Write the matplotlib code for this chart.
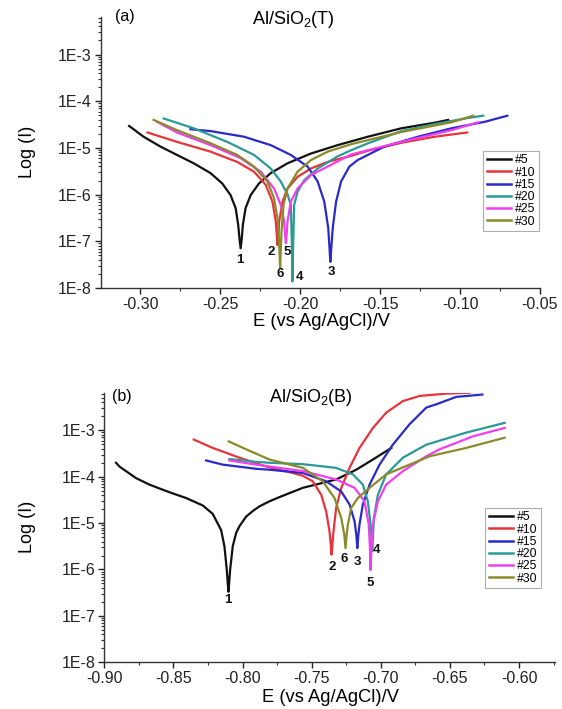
import numpy as np
import matplotlib
matplotlib.use("Agg")
import matplotlib.pyplot as plt
from matplotlib.ticker import LogLocator, FuncFormatter, MultipleLocator, NullFormatter

plt.rcParams['font.family'] = ['Liberation Sans', 'DejaVu Sans']
plt.rcParams['mathtext.fontset'] = 'custom'
plt.rcParams['mathtext.rm'] = 'Liberation Sans'

# ---------------- data (E in V, log10 of current) ----------------
series_names = ["#5", "#10", "#15", "#20", "#25", "#30"]
series_colors = ["#111111", "#e8343a", "#2a2ac8", "#2a9a96", "#f03ef0", "#8a8a2a"]

# Panel (a) Al/SiO2(T)
Ta_E5 = [-0.3069, -0.2979, -0.2874, -0.2770, -0.2665, -0.2560, -0.2487, -0.2435, -0.2403, -0.2387, -0.2379, -0.2372,
         -0.2365, -0.2358, -0.2341, -0.2309, -0.2257, -0.2184, -0.2079, -0.1932, -0.1765, -0.1576, -0.1367, -0.1158, -0.1074]
Ta_L5 = [-4.53, -4.76, -4.97, -5.15, -5.33, -5.54, -5.76, -6.01, -6.29, -6.65, -6.95, -7.15,
         -6.95, -6.65, -6.29, -6.01, -5.76, -5.54, -5.33, -5.12, -4.94, -4.76, -4.58, -4.46, -4.40]
Ta_E10 = [-0.2954, -0.2770, -0.2560, -0.2393, -0.2288, -0.2215, -0.2173, -0.2152, -0.2146, -0.2141, -0.2136,
          -0.2131, -0.2110, -0.2079, -0.2016, -0.1932, -0.1828, -0.1681, -0.1576, -0.1367, -0.1158, -0.0955]
Ta_L10 = [-4.67, -4.87, -5.08, -5.30, -5.51, -5.79, -6.15, -6.58, -6.85, -7.08, -6.85,
          -6.58, -6.15, -5.87, -5.62, -5.44, -5.30, -5.17, -5.06, -4.89, -4.76, -4.67]
Ta_E15 = [-0.2686, -0.2560, -0.2351, -0.2184, -0.2058, -0.1953, -0.1890, -0.1849, -0.1824, -0.1817, -0.1811,
          -0.1804, -0.1796, -0.1775, -0.1744, -0.1692, -0.1640, -0.1472, -0.1263, -0.1054, -0.0844, -0.0704]
Ta_L15 = [-4.60, -4.64, -4.76, -4.94, -5.15, -5.40, -5.72, -6.15, -6.72, -7.10, -7.44,
          -7.10, -6.72, -6.15, -5.72, -5.40, -5.26, -4.97, -4.76, -4.58, -4.44, -4.31]
Ta_E20 = [-0.2853, -0.2665, -0.2456, -0.2288, -0.2184, -0.2121, -0.2079, -0.2058, -0.2052, -0.2048, -0.2043,
          -0.2037, -0.2016, -0.1974, -0.1890, -0.1765, -0.1681, -0.1575, -0.1367, -0.1160, -0.0953, -0.0855]
Ta_L20 = [-4.37, -4.58, -4.87, -5.15, -5.44, -5.72, -5.99, -6.22, -7.00, -7.86, -7.00,
          -6.22, -5.94, -5.69, -5.44, -5.18, -5.05, -4.90, -4.64, -4.49, -4.36, -4.31]
Ta_E25 = [-0.2895, -0.2770, -0.2560, -0.2372, -0.2246, -0.2163, -0.2121, -0.2100, -0.2094, -0.2089, -0.2084,
          -0.2079, -0.2058, -0.2016, -0.1932, -0.1828, -0.1681, -0.1367, -0.1053, -0.0886]
Ta_L25 = [-4.44, -4.67, -4.94, -5.22, -5.51, -5.87, -6.22, -6.58, -6.85, -7.04, -6.85,
          -6.58, -6.15, -5.87, -5.58, -5.40, -5.14, -4.87, -4.62, -4.45]
Ta_E30 = [-0.2916, -0.2770, -0.2560, -0.2393, -0.2288, -0.2204, -0.2163, -0.2138, -0.2130, -0.2125, -0.2120,
          -0.2116, -0.2104, -0.2079, -0.2016, -0.1932, -0.1828, -0.1681, -0.1367, -0.1053, -0.0917]
Ta_L30 = [-4.40, -4.62, -4.90, -5.15, -5.40, -5.72, -6.08, -6.58, -7.10, -7.58, -7.10,
          -6.79, -6.22, -5.87, -5.51, -5.26, -5.08, -4.92, -4.66, -4.45, -4.31]

# Panel (b) Al/SiO2(B)
Tb_E5 = [-0.8915, -0.8891, -0.8819, -0.8771, -0.8674, -0.8578, -0.8505, -0.8408, -0.8288, -0.8216, -0.8155,
         -0.8131, -0.8114, -0.8107, -0.8102, -0.8097, -0.8090, -0.8071, -0.8046, -0.8023, -0.7974, -0.7926,
         -0.7878, -0.7805, -0.7733, -0.7564, -0.7323, -0.7178, -0.7057, -0.6924]
Tb_L5 = [-3.70, -3.78, -3.93, -4.03, -4.17, -4.28, -4.36, -4.46, -4.62, -4.80, -5.15,
         -5.50, -6.01, -6.30, -6.48, -6.30, -6.01, -5.50, -5.21, -5.07, -4.86, -4.74,
         -4.64, -4.53, -4.44, -4.24, -4.06, -3.85, -3.63, -3.38]
Tb_E10 = [-0.8353, -0.8216, -0.8023, -0.7830, -0.7637, -0.7564, -0.7492, -0.7431, -0.7395, -0.7371, -0.7362,
          -0.7357, -0.7350, -0.7342, -0.7323, -0.7286, -0.7226, -0.7154, -0.7057, -0.6961, -0.6840, -0.6719,
          -0.6527, -0.6357]
Tb_L10 = [-3.20, -3.38, -3.59, -3.78, -3.92, -3.98, -4.10, -4.39, -4.75, -5.18, -5.45,
          -5.68, -5.45, -5.18, -4.67, -4.24, -3.81, -3.38, -2.95, -2.62, -2.37, -2.26,
          -2.21, -2.19]
Tb_E15 = [-0.8264, -0.8144, -0.7902, -0.7805, -0.7564, -0.7395, -0.7286, -0.7226, -0.7190, -0.7177, -0.7170,
          -0.7162, -0.7154, -0.7130, -0.7081, -0.7009, -0.6913, -0.6792, -0.6671, -0.6599, -0.6454, -0.6265]
Tb_L15 = [-3.65, -3.74, -3.83, -3.85, -3.92, -4.10, -4.32, -4.60, -4.96, -5.25, -5.54,
          -5.25, -5.03, -4.60, -4.17, -3.74, -3.31, -2.87, -2.51, -2.44, -2.28, -2.23]
Tb_E20 = [-0.8095, -0.7902, -0.7805, -0.7564, -0.7323, -0.7202, -0.7130, -0.7094, -0.7074, -0.7067, -0.7062,
          -0.7056, -0.7050, -0.7021, -0.6961, -0.6840, -0.6671, -0.6382, -0.6104]
Tb_L20 = [-3.62, -3.68, -3.70, -3.73, -3.81, -3.95, -4.17, -4.53, -5.03, -5.35, -5.61,
          -5.25, -4.89, -4.39, -3.95, -3.59, -3.31, -3.05, -2.84]
Tb_E25 = [-0.8095, -0.7902, -0.7805, -0.7564, -0.7323, -0.7190, -0.7118, -0.7087, -0.7079, -0.7074, -0.7068,
          -0.7057, -0.7021, -0.6961, -0.6840, -0.6671, -0.6575, -0.6333, -0.6104]
Tb_L25 = [-3.65, -3.74, -3.78, -3.88, -4.06, -4.24, -4.53, -5.03, -5.50, -6.01, -5.50,
          -5.03, -4.53, -4.17, -3.88, -3.56, -3.41, -3.13, -2.95]
Tb_E30 = [-0.8100, -0.7974, -0.7805, -0.7564, -0.7420, -0.7335, -0.7286, -0.7264, -0.7255, -0.7247, -0.7238,
          -0.7214, -0.7166, -0.7081, -0.6961, -0.6792, -0.6647, -0.6382, -0.6104]
Tb_L30 = [-3.24, -3.41, -3.63, -3.81, -4.10, -4.46, -4.89, -5.25, -5.54, -5.25, -5.03,
          -4.67, -4.46, -4.24, -3.95, -3.74, -3.56, -3.38, -3.16]

top_E = [Ta_E5, Ta_E10, Ta_E15, Ta_E20, Ta_E25, Ta_E30]
top_L = [Ta_L5, Ta_L10, Ta_L15, Ta_L20, Ta_L25, Ta_L30]
bot_E = [Tb_E5, Tb_E10, Tb_E15, Tb_E20, Tb_E25, Tb_E30]
bot_L = [Tb_L5, Tb_L10, Tb_L15, Tb_L20, Tb_L25, Tb_L30]

# curve number labels (E, log I)
top_lab_text = ["1", "2", "3", "4", "5", "6"]
top_lab_E = [-0.2377, -0.2179, -0.1807, -0.2006, -0.2079, -0.2125]
top_lab_L = [-7.39, -7.22, -7.65, -7.76, -7.22, -7.69]
bot_lab_text = ["1", "2", "3", "4", "5", "6"]
bot_lab_E = [-0.8107, -0.7354, -0.7170, -0.7028, -0.7074, -0.7262]
bot_lab_L = [-6.65, -5.94, -5.83, -5.57, -6.29, -5.78]

# ---------------- figure ----------------
W, H = 562, 709
fig = plt.figure(figsize=(W / 100, H / 100), dpi=100)

def px_axes(l, t, r, b):
    return fig.add_axes([l / W, 1 - b / H, (r - l) / W, (b - t) / H])

ax1 = px_axes(101, 16.7, 540, 288)
ax2 = px_axes(104.3, 392.7, 555, 662.3)

def fmt(v, pos):
    e = int(round(np.log10(v)))
    return "1E%d" % e

def style(ax, xlim, xmaj):
    ax.set_yscale('log')
    ax.set_ylim(1e-8, 10 ** -2.19)
    ax.set_xlim(*xlim)
    ax.xaxis.set_major_locator(MultipleLocator(xmaj))
    ax.xaxis.set_minor_locator(MultipleLocator(xmaj / 2))
    ax.xaxis.set_major_formatter(FuncFormatter(lambda v, p: "%.2f" % v))
    ax.yaxis.set_major_locator(LogLocator(base=10, numticks=20))
    ax.yaxis.set_minor_locator(LogLocator(base=10, subs=np.arange(2, 10), numticks=20))
    ax.yaxis.set_major_formatter(FuncFormatter(fmt))
    ax.yaxis.set_minor_formatter(NullFormatter())
    for s in ['top', 'right']:
        ax.spines[s].set_visible(False)
    for s in ['left', 'bottom']:
        ax.spines[s].set_linewidth(1.0)
        ax.spines[s].set_color('#333333')
    ax.tick_params(which='major', direction='out', length=4, width=1.0, labelsize=11.5, colors='#222222', pad=2.5)
    ax.tick_params(which='minor', direction='out', length=2, width=0.8, colors='#333333')

style(ax1, (-0.3245, -0.05), 0.05)
style(ax2, (-0.90, -0.574), 0.05)

for ax, Es, Ls in [(ax1, top_E, top_L), (ax2, bot_E, bot_L)]:
    for name, col, e, l in zip(series_names, series_colors, Es, Ls):
        ax.plot(e, 10 ** np.array(l), color=col, lw=1.6, label=name, solid_joinstyle='round')

for t, e, l in zip(top_lab_text, top_lab_E, top_lab_L):
    ax1.text(e, 10 ** l, t, ha='center', va='center', fontsize=9.5, fontweight='bold', color='#111111')
for t, e, l in zip(bot_lab_text, bot_lab_E, bot_lab_L):
    ax2.text(e, 10 ** l, t, ha='center', va='center', fontsize=9.5, fontweight='bold', color='#111111')

# legends
for ax, (lx, ty) in [(ax1, (483.3, 150.7)), (ax2, (485, 507.7))]:
    leg = ax.legend(loc='upper left', bbox_to_anchor=(lx / W, 1 - ty / H), bbox_transform=fig.transFigure,
                    fontsize=8.8, frameon=True, fancybox=False, handlelength=2.0, handletextpad=0.3,
                    borderpad=0.3, labelspacing=0.02, borderaxespad=0)
    leg.get_frame().set_edgecolor('#999999')
    leg.get_frame().set_linewidth(0.8)
    for ln in leg.get_lines():
        ln.set_linewidth(1.8)

# panel texts
fig.text(125 / W, 1 - 17 / H, "(a)", ha='center', va='center', fontsize=11.5)
fig.text(293.5 / W, 1 - 20 / H, "Al/SiO$_2$(T)", ha='center', va='center', fontsize=13)
fig.text(121.7 / W, 1 - 396 / H, "(b)", ha='center', va='center', fontsize=11.5)
fig.text(311 / W, 1 - 398 / H, "Al/SiO$_2$(B)", ha='center', va='center', fontsize=13)

fig.text(27 / W, 1 - 152 / H, "Log (I)", rotation=90, ha='center', va='center', fontsize=13)
fig.text(27 / W, 1 - 527 / H, "Log (I)", rotation=90, ha='center', va='center', fontsize=13)
fig.text(321.5 / W, 1 - 322 / H, "E (vs Ag/AgCl)/V", ha='center', va='center', fontsize=13.2)
fig.text(331 / W, 1 - 697 / H, "E (vs Ag/AgCl)/V", ha='center', va='center', fontsize=13.2)

fig.savefig("out.png", dpi=100, facecolor='white')
